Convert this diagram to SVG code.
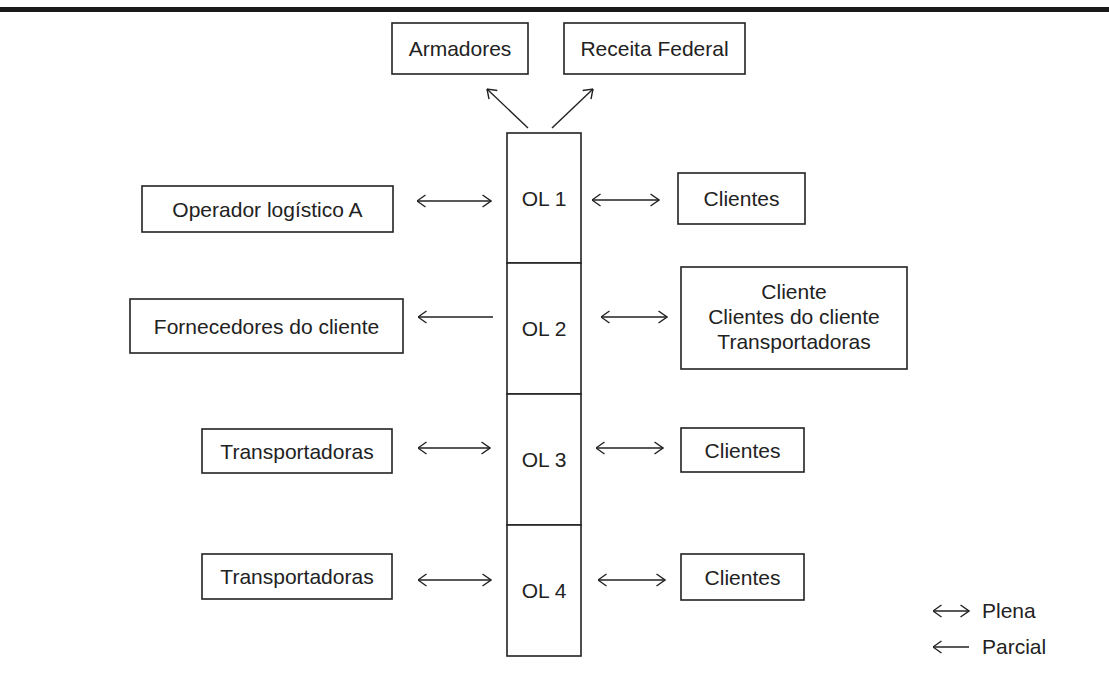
<svg xmlns="http://www.w3.org/2000/svg" width="1109" height="677" viewBox="0 0 1109 677">
<style>
.box{fill:#fff;stroke:#222;stroke-width:1.6}
.t{font-family:"Liberation Sans",Arial,sans-serif;font-size:21px;fill:#222;text-anchor:middle}
.tl{font-family:"Liberation Sans",Arial,sans-serif;font-size:21px;fill:#222}
.c{stroke:#222;stroke-width:1.4;fill:none}
.both{marker-start:url(#ah);marker-end:url(#ah)}
.one{marker-end:url(#ah)}
</style>
<defs>
<marker id="ah" markerUnits="userSpaceOnUse" viewBox="0 0 10 14" refX="9.5" refY="7" markerWidth="10" markerHeight="14" orient="auto-start-reverse">
<path d="M1,1 L9.5,7 L1,13" fill="none" stroke="#222" stroke-width="1.4"/>
</marker>
</defs>
<rect width="1109" height="677" fill="#fff"/>
<rect x="0" y="7" width="1109" height="5" fill="#1a1a1a"/>

<g id="armadores"><rect class="box" x="392" y="23" width="136" height="51"/><text class="t" x="460" y="56">Armadores</text></g>
<g id="receita"><rect class="box" x="564" y="23" width="181" height="51"/><text class="t" x="654.5" y="56">Receita Federal</text></g>

<g id="ol1"><rect class="box" x="507" y="133" width="74" height="130"/><text class="t" x="544" y="205.5">OL 1</text></g>
<g id="ol2"><rect class="box" x="507" y="263" width="74" height="131"/><text class="t" x="544" y="336">OL 2</text></g>
<g id="ol3"><rect class="box" x="507" y="394" width="74" height="131"/><text class="t" x="544" y="467">OL 3</text></g>
<g id="ol4"><rect class="box" x="507" y="525" width="74" height="131"/><text class="t" x="544" y="598">OL 4</text></g>

<g id="operador"><rect class="box" x="142" y="186" width="251" height="46"/><text class="t" x="267.5" y="216.5">Operador logístico A</text></g>
<g id="clientes1"><rect class="box" x="678" y="173" width="127" height="51"/><text class="t" x="741.5" y="206">Clientes</text></g>

<g id="fornecedores"><rect class="box" x="130" y="299" width="273" height="54"/><text class="t" x="266.5" y="333.5">Fornecedores do cliente</text></g>
<g id="clientes2"><rect class="box" x="681" y="267" width="226" height="102"/>
<text class="t" x="794" y="299">Cliente</text>
<text class="t" x="794" y="324">Clientes do cliente</text>
<text class="t" x="794" y="349">Transportadoras</text></g>

<g id="transp3"><rect class="box" x="202" y="429" width="190" height="44"/><text class="t" x="297" y="458.5">Transportadoras</text></g>
<g id="clientes3"><rect class="box" x="681" y="428" width="123" height="44"/><text class="t" x="742.5" y="457.5">Clientes</text></g>

<g id="transp4"><rect class="box" x="202" y="554" width="190" height="45"/><text class="t" x="297" y="584">Transportadoras</text></g>
<g id="clientes4"><rect class="box" x="681" y="554" width="123" height="46"/><text class="t" x="742.5" y="584.5">Clientes</text></g>

<g id="connectors">
<line class="c one" x1="528" y1="128" x2="487" y2="89"/>
<line class="c one" x1="552" y1="128" x2="593" y2="89"/>
<line class="c both" x1="417" y1="201" x2="491" y2="201"/>
<line class="c both" x1="592" y1="200" x2="659" y2="200"/>
<line class="c one" x1="493" y1="317" x2="418" y2="317"/>
<line class="c both" x1="601" y1="317" x2="667" y2="317"/>
<line class="c both" x1="418" y1="448" x2="490" y2="448"/>
<line class="c both" x1="596" y1="448" x2="663" y2="448"/>
<line class="c both" x1="418" y1="580" x2="491" y2="580"/>
<line class="c both" x1="598" y1="580" x2="665" y2="580"/>
</g>

<g id="legend">
<line class="c both" x1="933" y1="611" x2="969" y2="611"/>
<text class="tl" x="982" y="618">Plena</text>
<line class="c one" x1="969" y1="647" x2="933" y2="647"/>
<text class="tl" x="982" y="654">Parcial</text>
</g>
</svg>
